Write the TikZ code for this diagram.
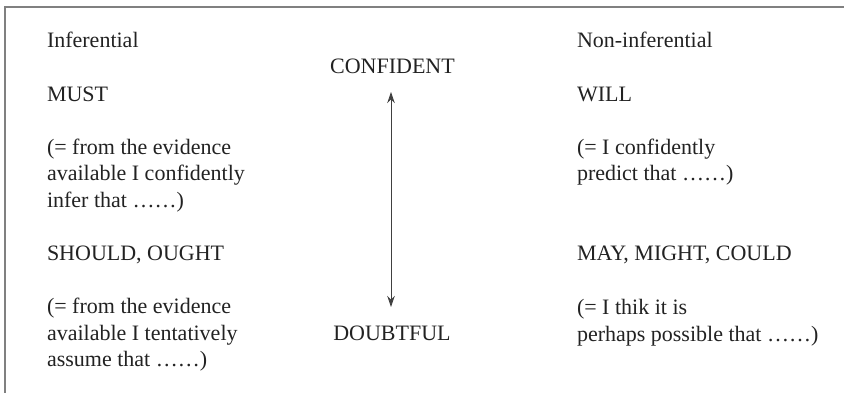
\documentclass[tikz,border=0pt]{standalone}
\usepackage{fontspec}
\setmainfont{Liberation Serif}
\usetikzlibrary{arrows.meta}
\definecolor{framegray}{HTML}{808080}
\definecolor{txt}{HTML}{222222}
\begin{document}
\begin{tikzpicture}[x=1pt,y=-1pt,
  lbl/.style={inner sep=0pt,outer sep=0pt,anchor=base west,align=left,text=txt,
    font=\fontsize{22}{26.5}\selectfont},
  ctr/.style={inner sep=0pt,outer sep=0pt,anchor=base,text=txt,
    font=\fontsize{22}{26.5}\selectfont},
  frame/.style={draw=framegray,line width=1.6pt},
  scalearrow/.style={draw=black!75,line width=0.9pt,{Stealth[length=11pt,width=7.5pt]}-{Stealth[length=11pt,width=7.5pt]}}]
\useasboundingbox (0,0) rectangle (844,393);
\coordinate (fTR) at (844,7);
\coordinate (fTL) at (5,7);
\coordinate (fBL) at (5,393.5);
\draw[frame] (fTR) -- (fTL) -- (fBL);
% left column (multi-line blocks are placed by the baseline of their last line)
\node[lbl] (inf) at (47,48) {Inferential};
\node[lbl] (must) at (47,101.5) {MUST};
\node[lbl] (mustg) at (47,207.5) {(= from the evidence\\available I confidently\\infer that \ldots\ldots)};
\node[lbl] (should) at (47,260) {SHOULD, OUGHT};
\node[lbl] (shouldg) at (47,366.5) {(= from the evidence\\available I tentatively\\assume that \ldots\ldots)};
% centre
\node[ctr] (conf) at (392.5,74) {CONFIDENT};
\node[ctr] (doubt) at (392,340) {DOUBTFUL};
\coordinate (atop) at (391,92);
\coordinate (abot) at (391,307);
\draw[scalearrow] (abot) -- (atop);
% right column
\node[lbl] (ninf) at (577,48) {Non-inferential};
\node[lbl] (will) at (577,101.5) {WILL};
\node[lbl] (willg) at (577,181) {(= I confidently\\predict that \ldots\ldots)};
\node[lbl] (may) at (577,260) {MAY, MIGHT, COULD};
\node[lbl] (mayg) at (577,341) {(= I thik it is\\perhaps possible that \ldots\ldots)};
\end{tikzpicture}
\end{document}
